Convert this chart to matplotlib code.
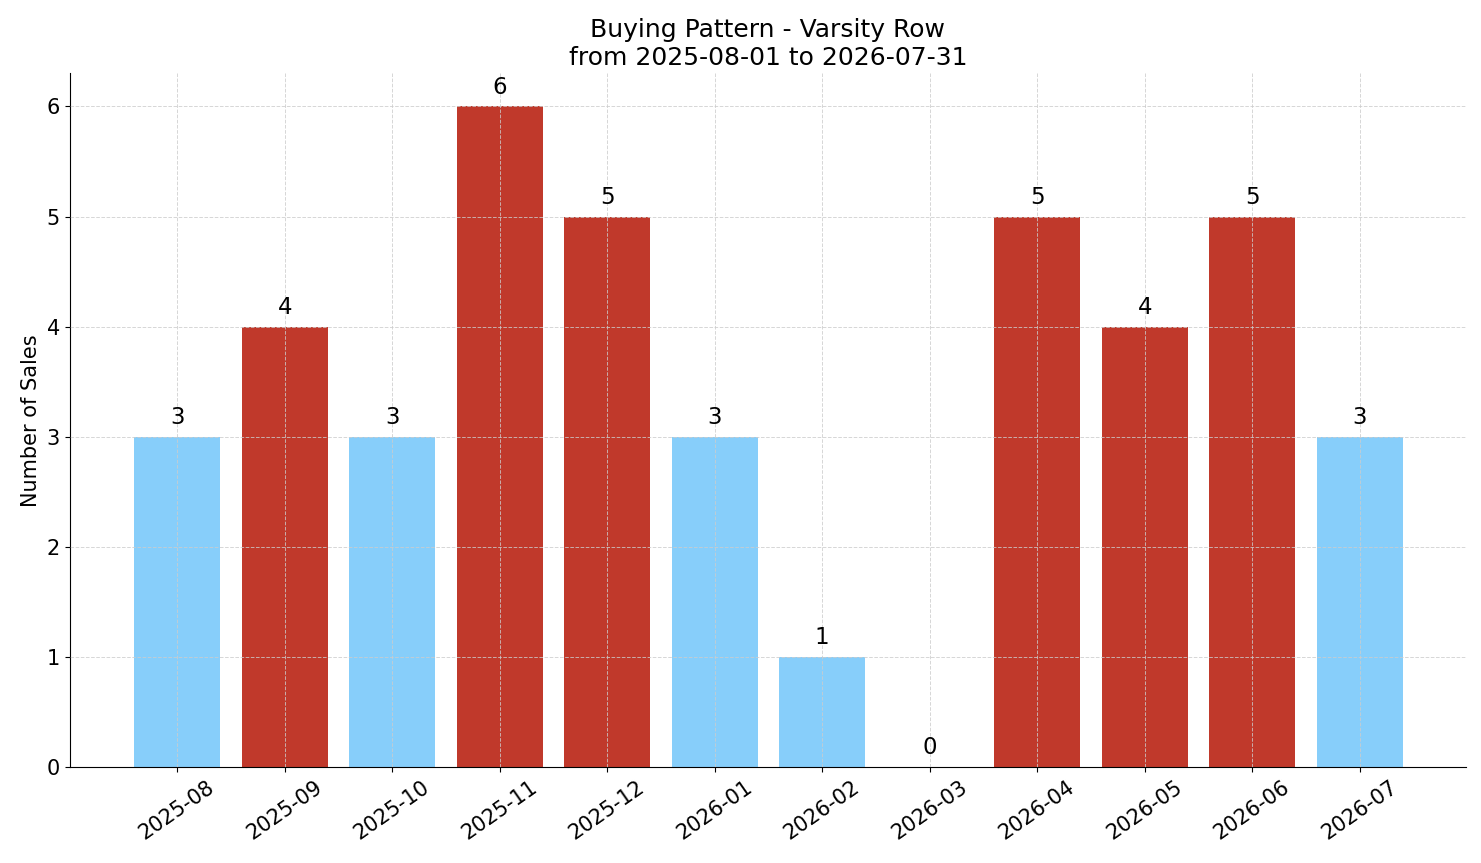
import matplotlib.pyplot as plt
import numpy as np


OUTPUT_PATH = "out.png"

# Dados mensais
months = ["2025-08", "2025-09", "2025-10", "2025-11", "2025-12", "2026-01",
          "2026-02", "2026-03", "2026-04", "2026-05", "2026-06", "2026-07"]
sales = [3, 4, 3, 6, 5, 3, 1, 0, 5, 4, 5, 3]
threshold = 4

HIGH_COLOR = "#c0392b"
LOW_COLOR = "#87cefa"


def main():
    plt.rcParams["font.size"] = 15

    fig, ax = plt.subplots(figsize=(14.81, 8.63), dpi=100)

    x = np.arange(len(months))
    colors = [HIGH_COLOR if v >= threshold else LOW_COLOR for v in sales]
    bars = ax.bar(x, sales, color=colors, width=0.8)

    # Rótulos acima das barras
    for bar, v in zip(bars, sales):
        ax.text(bar.get_x() + bar.get_width() / 2, v + 0.07, str(v),
                ha="center", va="bottom", fontsize=16.5)

    ax.set_xticks(x)
    ax.set_xticklabels(months, rotation=35)
    ax.set_ylabel("Number of Sales")
    ax.set_title("Buying Pattern - Varsity Row\nfrom 2025-08-01 to 2026-07-31",
                 fontsize=18)
    ax.set_ylim(0, 6.3)
    ax.set_xlim(-1.0, 11.99)

    # grade por cima das barras, como no original
    ax.set_axisbelow(False)
    ax.grid(True, linestyle="--", color="#cccccc", linewidth=0.7, alpha=0.8)
    ax.spines["top"].set_visible(False)
    ax.spines["right"].set_visible(False)

    fig.subplots_adjust(left=0.047, right=0.99, top=0.915, bottom=0.111)
    fig.savefig(OUTPUT_PATH)
    plt.close(fig)


if __name__ == "__main__":
    main()
